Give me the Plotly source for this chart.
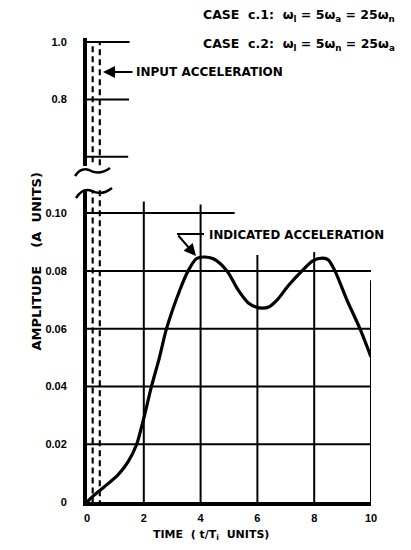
import plotly.graph_objects as go

# ---------------- data ----------------
time_pts = [0, 0.25, 0.6, 1.1, 1.45, 1.75, 2.0, 2.27, 2.55, 2.8, 3.27, 3.56, 3.85, 4.1, 4.45,
            4.93, 5.32, 5.67, 5.95, 6.16, 6.4, 6.69, 7.1, 7.57, 7.95, 8.31, 8.5, 8.73, 9.15,
            9.61, 10]
indicated = [0, 0.0024, 0.0052, 0.0095, 0.014, 0.02, 0.029, 0.04, 0.05, 0.06, 0.0734, 0.08,
             0.0842, 0.0848, 0.0842, 0.08, 0.0734, 0.069, 0.0675, 0.0671, 0.0675, 0.0699, 0.075,
             0.08, 0.0835, 0.0844, 0.0838, 0.08, 0.07, 0.06, 0.0502]

pulse_widths = [0.2, 0.45]          # input acceleration pulses (dashed)
pulse_height = 1.0

x_ticks = [0, 2, 4, 6, 8, 10]
y_low_ticks = [0, 0.02, 0.04, 0.06, 0.08, 0.10]
y_low_labels = ["0", "0.02", "0.04", "0.06", "0.08", "0.10"]
y_up_ticks = [0.8, 1.0]
y_up_labels = ["0.8", "1.0"]

# hand-drawn grid extents
h_grid_low = [0.02, 0.04, 0.06, 0.08, 0.10]
h_grid_low_end = [10, 10, 10, 10, 5.2]
v_grid = [2, 4, 6, 8, 10]
v_grid_top = [0.104, 0.103, 0.0855, 0.0865, 0.0768]
h_grid_up = [0.6, 0.8, 1.0]
h_grid_up_end = [1.45, 1.48, 1.5]

# ---------------- layout geometry ----------------
OFF = 8                      # page body margin
W, H = 411 - OFF, 550 - OFF
ML, MR, MT, MB = 87 - OFF, 40, 38 - OFF, 48
PW, PH = W - ML - MR, H - MT - MB


def px(xr):                  # reference-screen pixel -> paper
    return (xr - OFF - ML) / PW


def py(yr):
    return (H - MB - (yr - OFF)) / PH


FONT = "DejaVu Sans"
fig = go.Figure()

# input pulses
for w in pulse_widths:
    for xa, ya in (("x", "y"), ("x2", "y2")):
        fig.add_trace(go.Scatter(x=[0, w, w], y=[pulse_height, pulse_height, 0], mode="lines",
                                 line=dict(color="black", width=2.2, dash="6px,4px"),
                                 xaxis=xa, yaxis=ya, hoverinfo="skip", showlegend=False))

# indicated acceleration
fig.add_trace(go.Scatter(x=time_pts, y=indicated, mode="lines",
                         line=dict(color="black", width=3.2, shape="spline", smoothing=0.8),
                         xaxis="x", yaxis="y", showlegend=False))

shapes = []
for yv, xe in zip(h_grid_low, h_grid_low_end):
    shapes.append(dict(type="line", xref="x", yref="y", x0=0, x1=xe, y0=yv, y1=yv,
                       line=dict(color="black", width=2)))
for xv, yt in zip(v_grid, v_grid_top):
    shapes.append(dict(type="line", xref="x", yref="y", x0=xv, x1=xv, y0=0, y1=yt,
                       line=dict(color="black", width=2)))
for yv, xe in zip(h_grid_up, h_grid_up_end):
    shapes.append(dict(type="line", xref="x2", yref="y2", x0=0, x1=xe, y0=yv, y1=yv,
                       line=dict(color="black", width=2)))


# axis-break squiggles
def path(points):
    (a, b), (c, d), (e, f), (g, h), (i, j) = points
    return (f"M {px(a)},{py(b)} Q {px(c)},{py(d)} {px(e)},{py(f)} "
            f"Q {px(g)},{py(h)} {px(i)},{py(j)}")


shapes.append(dict(type="path", xref="paper", yref="paper",
                   path=path([(75, 176), (81, 167), (89, 170), (99, 176), (110, 168)]),
                   line=dict(color="black", width=2.5)))
shapes.append(dict(type="path", xref="paper", yref="paper",
                   path=path([(76, 198), (83, 187), (92, 191), (102, 196), (112, 188)]),
                   line=dict(color="black", width=2.5)))
# bent leader of the indicated-acceleration arrow
shapes.append(dict(type="line", xref="paper", yref="paper",
                   x0=px(177), x1=px(204), y0=py(234), y1=py(234),
                   line=dict(color="black", width=2)))

head = dict(family=FONT, size=12.5, color="black", weight="bold")
bold = dict(family=FONT, size=12, color="black", weight="bold")
annotations = [
    dict(text="CASE  c.1:  ω<sub>l</sub> = 5ω<sub>a</sub> = 25ω<sub>n</sub>",
         x=px(201), y=py(15), xref="paper", yref="paper", xanchor="left", yanchor="middle",
         showarrow=False, font=head),
    dict(text="CASE  c.2:  ω<sub>l</sub> = 5ω<sub>n</sub> = 25ω<sub>a</sub>",
         x=px(201), y=py(44), xref="paper", yref="paper", xanchor="left", yanchor="middle",
         showarrow=False, font=head),
    dict(text="INPUT ACCELERATION", x=px(134), y=py(72), xref="paper", yref="paper",
         xanchor="left", yanchor="middle", showarrow=False, font=bold),
    dict(text="", x=px(103), y=py(72), xref="paper", yref="paper", ax=31, ay=0,
         axref="pixel", ayref="pixel", showarrow=True, arrowhead=2, arrowsize=1.2,
         arrowwidth=2, arrowcolor="black"),
    dict(text="INDICATED ACCELERATION", x=px(207), y=py(235), xref="paper", yref="paper",
         xanchor="left", yanchor="middle", showarrow=False,
         font=dict(family=FONT, size=11.8, color="black", weight="bold")),
    dict(text="", x=px(196), y=py(256), xref="paper", yref="paper", ax=-19, ay=-22,
         axref="pixel", ayref="pixel", showarrow=True, arrowhead=2, arrowsize=1.2,
         arrowwidth=2, arrowcolor="black"),
    dict(text="AMPLITUDE    (A  UNITS)", x=px(27), y=py(262), xref="paper", yref="paper",
         textangle=-90, showarrow=False,
         font=dict(family=FONT, size=13, color="black", weight="bold")),
    dict(text="TIME  ( t/T<sub>i</sub>  UNITS)", x=px(211), y=py(526), xref="paper",
         yref="paper", yanchor="top", showarrow=False,
         font=dict(family=FONT, size=11, color="black", weight="bold")),
]

tickfont = dict(family="Liberation Sans", size=11, color="black", weight="bold")
fig.update_layout(
    width=W, height=H, margin=dict(l=ML, r=MR, t=MT, b=MB),
    paper_bgcolor="white", plot_bgcolor="white",
    shapes=shapes, annotations=annotations, showlegend=False,
    xaxis=dict(range=[0, 10], tickvals=x_ticks, showgrid=False, zeroline=False,
               showline=True, linecolor="black", linewidth=4, ticks="", ticklen=0,
               ticklabelstandoff=3, tickfont=tickfont, anchor="y"),
    yaxis=dict(domain=[0, py(190)], range=[0, 0.108], tickvals=y_low_ticks,
               ticktext=y_low_labels, showgrid=False, zeroline=False, showline=True,
               linecolor="black", linewidth=4, ticks="", ticklen=0, ticklabelstandoff=14,
               tickfont=tickfont, anchor="x"),
    xaxis2=dict(range=[0, 10], matches="x", showgrid=False, zeroline=False,
                showline=False, showticklabels=False, ticks="", anchor="y2"),
    yaxis2=dict(domain=[py(166), 1], range=[0.568, 1.014], tickvals=y_up_ticks,
                ticktext=y_up_labels, showgrid=False, zeroline=False, showline=True,
                linecolor="black", linewidth=4, ticks="", ticklen=0, ticklabelstandoff=14,
                tickfont=tickfont, anchor="x2"),
)

fig.write_html("out.html")
